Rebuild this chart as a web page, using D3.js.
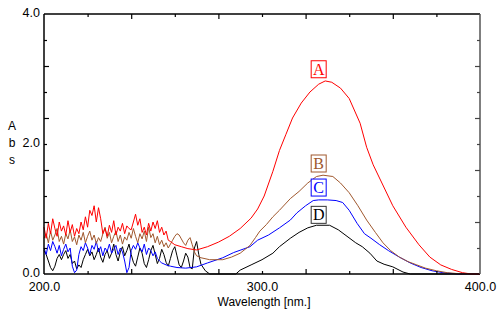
<!DOCTYPE html>
<html><head><meta charset="utf-8">
<script src="https://cdn.jsdelivr.net/npm/d3@7"></script>
<style>
html,body{margin:0;padding:0;background:#fff;}
</style></head>
<body><svg id="c" width="500" height="311"></svg>
<script>
// ---- data ----
const xDomain = [200, 400];
const yDomain = [0, 4];
const xLabelTicks = [200, 300, 400];
const yLabelTicks = [0, 2, 4];
const xLongTicks = [240, 280, 320, 360];
const xShortTicks = [220, 260, 300, 340, 380];
const yLongTicks = [0.8, 1.6, 2.4, 3.2];
const yShortTicks = [0.4, 1.2, 2.0, 2.8, 3.6];
const xTitle = "Wavelength [nm.]";
const yTitle = ["A", "b", "s"];
const seriesNames = ["A", "B", "C", "D"];
const seriesColors = ["#ff0000", "#a0582e", "#0000ff", "#000000"];
const labelPos = [[326, 3.15], [326, 1.70], [326, 1.33], [326, 0.91]];

// noisy region wavelengths 200..258 (1 nm steps) for A
const noiseA = [0.72,0.55,0.78,0.62,0.85,0.70,0.58,0.80,0.66,0.74,0.60,0.82,0.64,0.76,0.58,0.70,0.62,0.80,0.68,0.88,
  0.72,0.98,0.90,1.05,0.80,1.02,0.85,0.62,0.70,0.58,0.75,0.64,0.82,0.60,0.72,0.66,0.78,0.62,0.74,0.70,
  0.68,0.80,0.92,0.75,0.85,0.64,0.72,0.60,0.78,0.66,0.80,0.70,0.82,0.64,0.72,0.60,0.66,0.52,0.50];
const smoothA = [[260,0.45],[263,0.42],[266,0.39],[270,0.37],[275,0.42],[280,0.49],[285,0.58],[290,0.70],[295,0.86],
  [298,1.00],[301,1.20],[305,1.58],[308,1.90],[311,2.15],[314,2.40],[318,2.63],[322,2.80],[326,2.92],[329,2.97],
  [332,2.95],[336,2.86],[340,2.70],[345,2.32],[348,1.95],[351,1.68],[355,1.40],[360,1.05],[366,0.72],[372,0.45],
  [377,0.26],[382,0.14],[387,0.07],[392,0.02],[396,0.0],[400,0.0]];

// noisy region 200..270 for B
const noiseB = [0.55,0.62,0.48,0.66,0.52,0.60,0.70,0.50,0.58,0.46,0.62,0.54,0.68,0.50,0.57,0.45,0.60,0.52,0.64,0.48,
  0.58,0.66,0.52,0.60,0.47,0.56,0.50,0.62,0.72,0.55,0.64,0.48,0.58,0.66,0.50,0.60,0.46,0.57,0.52,0.64,
  0.55,0.70,0.58,0.48,0.62,0.54,0.66,0.50,0.72,0.56,0.62,0.48,0.58,0.45,0.52,0.42,0.48,0.40,0.46,0.52,
  0.58,0.62,0.60,0.54,0.48,0.44,0.52,0.56,0.45,0.34,0.28];
const smoothB = [[272,0.25],[276,0.22],[282,0.22],[286,0.26],[290,0.32],[294.5,0.44],[297,0.56],[299,0.66],[302,0.76],
  [305,0.88],[308,0.98],[313,1.16],[317,1.27],[321,1.40],[325,1.50],[328,1.52],[332.5,1.50],[336,1.40],[340,1.25],
  [344,1.05],[348,0.83],[352,0.64],[355.5,0.48],[359,0.36],[363,0.26],[367,0.19],[371,0.14],[375,0.09],[380,0.05],
  [385,0.02],[392,0.0],[400,0.0]];

// noisy region 200..253 for C
const noiseC = [0.40,0.30,0.46,0.36,0.50,0.42,0.32,0.44,0.28,0.38,0.46,0.34,0.40,0.12,0.02,0.06,0.30,0.42,0.36,0.48,
  0.40,0.30,0.44,0.38,0.50,0.34,0.42,0.28,0.40,0.35,0.46,0.32,0.38,0.44,0.30,0.40,0.34,0.20,0.02,0.10,
  0.36,0.44,0.38,0.48,0.40,0.34,0.46,0.30,0.40,0.36,0.28,0.34,0.24,0.20];
const smoothC = [[254,0.17],[256,0.14],[258,0.12],[261,0.10],[265,0.09],[270,0.11],[275,0.17],[282,0.25],[287,0.33],
  [294.5,0.42],[298,0.52],[303,0.60],[308,0.71],[313,0.83],[316,0.94],[320,1.05],[323.5,1.13],[326,1.14],[330,1.14],
  [334,1.13],[337,1.10],[340,0.98],[343.6,0.78],[347,0.62],[350,0.55],[354,0.45],[358,0.36],[363,0.26],[368,0.17],
  [373,0.10],[378,0.05],[383,0.02],[390,0.0],[400,0.0]];

// noisy region 200..271 for D
const noiseD = [0.36,0.30,0.20,0.10,0.05,0.12,0.24,0.30,0.22,0.30,0.36,0.24,0.30,0.16,0.20,0.08,0.14,0.10,0.22,0.30,
  0.38,0.28,0.34,0.22,0.30,0.40,0.26,0.18,0.30,0.36,0.24,0.32,0.46,0.30,0.20,0.34,0.42,0.28,0.36,0.46,
  0.30,0.18,0.12,0.26,0.40,0.32,0.16,0.10,0.22,0.36,0.44,0.30,0.16,0.24,0.38,0.30,0.18,0.12,0.24,0.36,
  0.42,0.28,0.14,0.10,0.20,0.32,0.26,0.10,0.08,0.40,0.50,0.30];
const smoothD = [[272,0.15],[274,0.05],[276,0.0],[288,0.0],[290,0.06],[295,0.14],[300,0.22],[305,0.32],[308,0.42],
  [313,0.55],[317,0.64],[321,0.71],[325,0.75],[331,0.75],[335,0.68],[339,0.58],[343,0.48],[346,0.42],[349.5,0.32],
  [352.7,0.20],[356,0.15],[360,0.11],[364.7,0.03],[368,0.0],[400,0.0]];

// ---- build ----
function build(noise, smooth) {
  return noise.map((v, i) => [200 + i, v]).concat(smooth);
}
const series = [build(noiseA, smoothA), build(noiseB, smoothB), build(noiseC, smoothC), build(noiseD, smoothD)];

const SANS = "'Liberation Sans', Arial, sans-serif";
const SERIF = "'Liberation Serif', 'Times New Roman', serif";
const svg = d3.select("#c");
const L = 44, R = 480, T = 14, B = 274;
const x = d3.scaleLinear(xDomain, [L, R]);
const y = d3.scaleLinear(yDomain, [B, T]);

const line = d3.line().x(d => x(d[0])).y(d => y(d[1]));
const order = [3, 2, 1, 0];
order.forEach(i => {
  svg.append("path").attr("d", line(series[i])).attr("fill", "none")
    .attr("stroke", seriesColors[i]).attr("stroke-width", 1).attr("stroke-linejoin", "round");
});

// frame
svg.append("line").attr("x1", L).attr("x2", R).attr("y1", T).attr("y2", T).attr("stroke", "#000").attr("stroke-width", 1.5);
svg.append("line").attr("x1", L).attr("x2", R).attr("y1", B).attr("y2", B).attr("stroke", "#000").attr("stroke-width", 1.5);
svg.append("line").attr("x1", L).attr("x2", L).attr("y1", T).attr("y2", B).attr("stroke", "#000").attr("stroke-width", 1.5);
svg.append("line").attr("x1", R).attr("x2", R).attr("y1", T).attr("y2", B).attr("stroke", "#555").attr("stroke-width", 1.5);

function tickAxis(gen, vals, len, tx, ty, col) {
  const g = svg.append("g").attr("transform", `translate(${tx},${ty})`)
    .call(gen.tickValues(vals).tickSize(-len).tickFormat(""));
  g.select(".domain").remove();
  g.selectAll("line").attr("stroke", col || "#000").attr("stroke-width", 1.2);
}
tickAxis(d3.axisBottom(x), xLongTicks, 5, 0, B);
tickAxis(d3.axisBottom(x), xShortTicks, 3, 0, B);
tickAxis(d3.axisTop(x), xLongTicks, 5, 0, T);
tickAxis(d3.axisTop(x), xShortTicks, 3, 0, T);
tickAxis(d3.axisLeft(y), yLongTicks, 5, L, 0);
tickAxis(d3.axisLeft(y), yShortTicks, 3, L, 0);
tickAxis(d3.axisRight(y), yLongTicks, 5, R, 0, "#444");
tickAxis(d3.axisRight(y), yShortTicks, 3, R, 0, "#444");

// labels
const gx = svg.append("g").attr("transform", `translate(0,${B})`)
  .call(d3.axisBottom(x).tickValues(xLabelTicks).tickFormat(d3.format(".1f")).tickSize(0).tickPadding(8));
gx.select(".domain").remove();
gx.selectAll("text").style("font-size", "12.5px").style("font-family", SANS).attr("fill", "#000");
const gy = svg.append("g").attr("transform", `translate(${L},0)`)
  .call(d3.axisLeft(y).tickValues(yLabelTicks).tickFormat(d3.format(".1f")).tickSize(0).tickPadding(4));
gy.select(".domain").remove();
gy.selectAll("text").style("font-size", "12.5px").style("font-family", SANS).attr("fill", "#000").attr("dy", "0.22em");

svg.append("text").attr("x", 264).attr("y", 306).attr("text-anchor", "middle")
  .style("font-size", "12px").style("font-family", SANS).text(xTitle);
yTitle.forEach((c, i) => {
  svg.append("text").attr("x", 12).attr("y", 130 + i * 17).attr("text-anchor", "middle")
    .style("font-size", "12px").style("font-family", SANS).text(c);
});

// series labels with boxes
seriesNames.forEach((n, i) => {
  const cx = x(labelPos[i][0]), cy = y(labelPos[i][1]);
  svg.append("rect").attr("x", cx - 7.5).attr("y", cy - 8.5).attr("width", 15).attr("height", 17)
    .attr("fill", "#fff").attr("stroke", i === 3 ? "#333" : seriesColors[i]).attr("stroke-width", 1);
  svg.append("text").attr("x", cx).attr("y", cy + 5.5).attr("text-anchor", "middle")
    .style("font-family", SERIF).style("font-size", "16px")
    .attr("fill", seriesColors[i]).text(n);
});
</script></body></html>
